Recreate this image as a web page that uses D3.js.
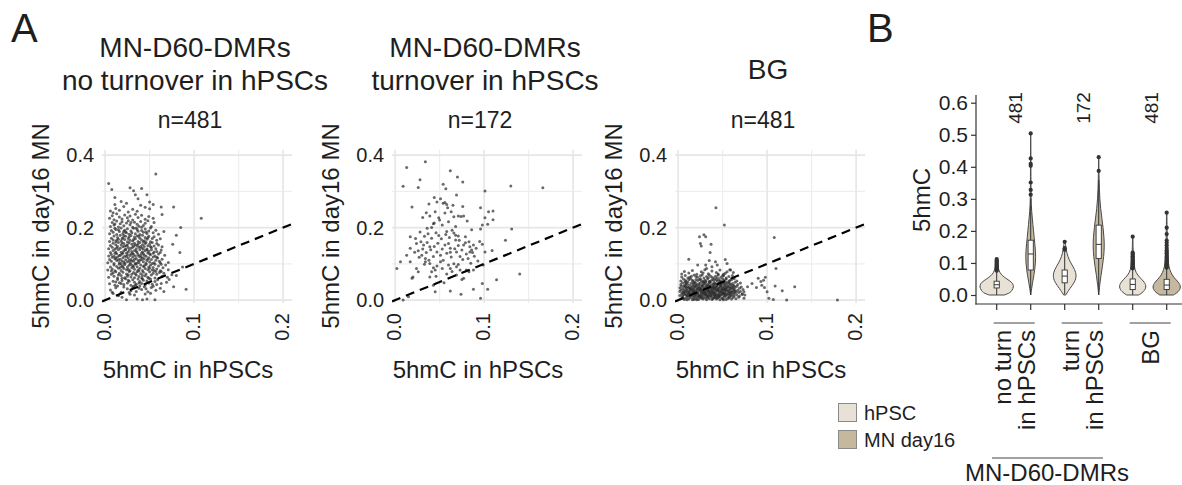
<!DOCTYPE html>
<html>
<head>
<meta charset="utf-8">
<script src="https://cdn.jsdelivr.net/npm/d3@7"></script>
<style>
  body { margin: 0; background: #fff; }
  text { font-family: "Liberation Sans", Arial, sans-serif; fill: #1e1e1e; }
</style>
</head>
<body>
<div id="chart"></div>
<script>
// ---------- data: panel A (scatter, x = 5hmC in hPSCs, y = 5hmC in day16 MN) ----------
var scatterTitles = [["MN-D60-DMRs", "no turnover in hPSCs"], ["MN-D60-DMRs", "turnover in hPSCs"], ["BG"]];
var scatterCounts = ["n=481", "n=172", "n=481"];
var xTicks = [0, 0.1, 0.2], xMinor = [0.05, 0.15];
var yTicks = [0, 0.2, 0.4], yMinor = [0.1, 0.3];

var noTurnPoints = [
[.024,.001],[.036,.003],[.042,.001],[.047,.003],[.056,.001],[.015,.012],[.028,.016],[.009,.018],[.033,.014],[.045,.017],[.019,.008],[.051,.019],
[.006,.028],[.012,.034],[.018,.022],[.021,.036],[.025,.031],[.029,.026],[.032,.038],[.035,.024],[.038,.033],[.041,.029],[.044,.037],[.048,.023],[.052,.035],[.057,.027],[.062,.033],[.077,.037],[.091,.030],[.014,.039],[.027,.021],[.031,.035],[.039,.039],[.046,.031],[.054,.038],[.066,.024],[.008,.022],
[.005,.045],[.009,.052],[.011,.041],[.014,.057],[.016,.048],[.019,.054],[.021,.043],[.023,.059],[.025,.047],[.027,.052],[.029,.041],[.031,.056],[.033,.049],[.035,.044],[.037,.058],[.039,.051],[.041,.046],[.043,.055],[.045,.042],[.047,.053],[.049,.047],[.051,.058],[.053,.044],[.056,.051],[.059,.056],[.063,.046],[.069,.049],[.072,.057],[.018,.046],[.026,.055],[.034,.041],[.042,.059],[.058,.043],[.012,.050],[.038,.047],
[.004,.063],[.007,.071],[.010,.066],[.012,.078],[.014,.061],[.016,.074],[.018,.068],[.020,.077],[.022,.062],[.024,.072],[.025,.066],[.027,.079],[.029,.064],[.030,.071],[.032,.076],[.033,.062],[.035,.069],[.036,.078],[.038,.065],[.040,.073],[.041,.061],[.043,.077],[.045,.067],[.046,.072],[.048,.063],[.050,.078],[.052,.069],[.054,.074],[.056,.061],[.058,.071],[.061,.076],[.064,.066],[.066,.074],[.070,.063],[.075,.070],[.080,.068],[.009,.075],[.019,.060],[.026,.070],[.034,.073],[.042,.068],[.049,.060],[.057,.079],[.063,.079],[.015,.069],
[.003,.083],[.006,.091],[.008,.086],[.010,.097],[.011,.081],[.013,.093],[.015,.088],[.016,.099],[.018,.082],[.019,.094],[.021,.087],[.022,.098],[.024,.084],[.025,.091],[.027,.096],[.028,.081],[.030,.089],[.031,.095],[.033,.085],[.034,.099],[.036,.092],[.037,.083],[.039,.088],[.040,.097],[.042,.082],[.043,.093],[.045,.087],[.046,.098],[.048,.084],[.049,.091],[.051,.096],[.053,.083],[.054,.090],[.056,.099],[.058,.086],[.060,.094],[.062,.081],[.065,.089],[.068,.097],[.071,.084],[.087,.091],[.007,.080],[.017,.090],[.026,.085],[.032,.092],[.038,.080],[.044,.095],[.050,.088],[.055,.082],[.063,.099],[.020,.092],[.029,.099],
[.003,.103],[.005,.112],[.007,.107],[.008,.118],[.010,.101],[.011,.114],[.013,.109],[.014,.119],[.016,.104],[.017,.113],[.019,.108],[.020,.117],[.022,.102],[.023,.111],[.025,.106],[.026,.116],[.028,.103],[.029,.112],[.031,.119],[.032,.107],[.034,.101],[.035,.115],[.037,.109],[.038,.104],[.040,.118],[.041,.111],[.043,.106],[.044,.114],[.046,.102],[.047,.109],[.049,.117],[.050,.105],[.052,.112],[.054,.119],[.055,.103],[.057,.110],[.059,.116],[.061,.107],[.064,.113],[.071,.104],[.012,.116],[.018,.100],[.024,.120],[.027,.109],[.033,.113],[.036,.102],[.039,.110],[.042,.117],[.048,.113],[.053,.101],[.058,.118],[.062,.103],[.015,.111],[.021,.105],[.030,.108],
[.004,.122],[.006,.131],[.007,.126],[.009,.137],[.010,.121],[.012,.133],[.013,.128],[.015,.139],[.016,.123],[.018,.132],[.019,.127],[.021,.136],[.022,.121],[.024,.130],[.025,.125],[.027,.138],[.028,.123],[.030,.134],[.031,.129],[.033,.137],[.034,.122],[.036,.131],[.037,.126],[.039,.139],[.040,.124],[.042,.133],[.043,.128],[.045,.136],[.046,.121],[.048,.130],[.049,.135],[.051,.125],[.052,.139],[.054,.129],[.056,.122],[.058,.134],[.060,.127],[.063,.138],[.067,.124],[.084,.131],[.011,.129],[.017,.124],[.023,.139],[.026,.133],[.029,.127],[.035,.135],[.038,.121],[.041,.130],[.044,.124],[.047,.139],[.050,.128],[.055,.133],[.020,.130],[.032,.126],[.062,.131],
[.004,.142],[.006,.151],[.008,.146],[.009,.157],[.011,.141],[.012,.153],[.014,.148],[.015,.159],[.017,.143],[.018,.152],[.020,.147],[.021,.156],[.023,.141],[.024,.150],[.026,.145],[.027,.158],[.029,.143],[.030,.154],[.032,.149],[.033,.157],[.035,.142],[.036,.151],[.038,.146],[.039,.159],[.041,.144],[.042,.153],[.044,.148],[.045,.156],[.047,.141],[.048,.150],[.050,.155],[.052,.145],[.053,.159],[.055,.149],[.057,.142],[.060,.152],[.064,.147],[.076,.154],[.013,.144],[.019,.158],[.025,.153],[.031,.146],[.037,.155],[.043,.141],[.046,.159],[.051,.148],[.058,.156],[.022,.149],[.034,.152],[.040,.148],
[.005,.162],[.007,.171],[.009,.166],[.010,.177],[.012,.161],[.014,.173],[.015,.168],[.017,.179],[.018,.163],[.020,.172],[.022,.167],[.023,.176],[.025,.161],[.026,.170],[.028,.165],[.029,.178],[.031,.163],[.033,.174],[.034,.169],[.036,.177],[.037,.162],[.039,.171],[.041,.166],[.042,.179],[.044,.164],[.045,.173],[.047,.168],[.049,.176],[.051,.161],[.053,.170],[.055,.175],[.058,.165],[.080,.179],[.013,.165],[.021,.178],[.027,.174],[.032,.167],[.038,.176],[.043,.161],[.048,.172],[.062,.169],[.019,.169],
[.005,.183],[.007,.192],[.009,.187],[.011,.198],[.013,.181],[.015,.194],[.016,.189],[.018,.199],[.020,.184],[.022,.193],[.023,.188],[.025,.197],[.027,.182],[.029,.191],[.030,.186],[.032,.198],[.034,.183],[.036,.195],[.037,.190],[.039,.181],[.041,.192],[.043,.187],[.045,.196],[.047,.184],[.049,.191],[.051,.199],[.054,.186],[.057,.193],[.060,.182],[.066,.189],[.012,.195],[.024,.186],[.035,.199],[.046,.188],[.021,.190],
[.006,.203],[.008,.214],[.010,.207],[.013,.218],[.015,.202],[.017,.211],[.019,.216],[.021,.205],[.024,.213],[.026,.219],[.028,.208],[.031,.201],[.033,.215],[.036,.209],[.038,.204],[.040,.217],[.043,.206],[.045,.212],[.048,.219],[.052,.203],[.055,.214],[.085,.200],[.011,.210],[.029,.214],[.041,.201],
[.005,.226],[.008,.233],[.010,.222],[.013,.238],[.016,.229],[.019,.224],[.022,.235],[.025,.227],[.028,.232],[.031,.221],[.034,.237],[.037,.228],[.041,.234],[.045,.223],[.049,.231],[.054,.226],[.108,.226],[.064,.236],
[.006,.246],[.009,.241],[.012,.253],[.016,.248],[.021,.258],[.026,.243],[.031,.251],[.036,.245],[.045,.256],[.050,.252],[.063,.257],[.077,.257],
[.011,.264],[.018,.272],[.054,.264],[.050,.271],[.024,.267],[.040,.262],
[.011,.283],[.037,.280],[.034,.291],[.047,.291],
[.004,.322],[.0075,.305],[.032,.302],[.041,.308],[.057,.348],[.028,.310]
];

var turnPoints = [
[.034,.382],[.013,.366],[.062,.357],[.028,.332],[.070,.340],[.009,.314],[.026,.311],[.054,.320],[.057,.307],[.076,.326],[.101,.301],[.130,.315],[.166,.310],
[.044,.283],[.051,.280],[.069,.290],[.019,.257],[.038,.265],[.047,.271],[.054,.267],[.056,.269],[.058,.264],[.065,.262],[.076,.258],[.096,.255],[.105,.244],[.110,.246],
[.031,.228],[.039,.232],[.045,.244],[.049,.227],[.056,.240],[.063,.244],[.066,.230],[.071,.232],[.074,.231],[.077,.232],[.101,.227],[.110,.222],[.104,.209],[.098,.207],
[.086,.194],[.131,.196],[.043,.211],[.053,.207],[.036,.198],[.041,.200],[.058,.189],[.064,.193],[.068,.179],[.071,.177],[.079,.175],[.096,.196],
[.017,.175],[.023,.170],[.024,.156],[.029,.161],[.032,.152],[.036,.159],[.039,.147],[.017,.143],[.026,.136],[.030,.124],[.034,.115],[.038,.110],[.043,.120],[.047,.133],
[.051,.124],[.056,.152],[.060,.156],[.062,.143],[.068,.166],[.069,.133],[.073,.120],[.077,.152],[.083,.161],[.084,.147],[.086,.138],[.088,.152],[.098,.154],[.101,.133],
[.109,.137],[.124,.165],[.084,.133],[.087,.131],
[.006,.106],[.002,.087],[.017,.106],[.024,.087],[.026,.078],[.019,.060],[.020,.064],[.034,.106],[.039,.101],[.043,.089],[.041,.078],[.045,.083],[.051,.106],[.054,.110],
[.060,.097],[.062,.087],[.066,.100],[.069,.092],[.073,.083],[.080,.083],[.083,.078],[.069,.069],[.077,.060],[.088,.083],[.099,.097],[.114,.056],[.140,.072],[.039,.064],
[.043,.041],[.045,.023],[.062,.025],[.075,.057],[.074,.016],[.088,.030],[.098,.046],[.104,.030],[.096,.005],[.015,.009],[.009,.000],
[.028,.188],[.033,.176],[.037,.183],[.041,.171],[.046,.186],[.049,.178],[.052,.169],[.057,.181],[.061,.173],[.066,.185],[.072,.165],[.079,.158],[.031,.141],[.035,.131],
[.040,.139],[.044,.148],[.048,.157],[.053,.141],[.058,.129],[.063,.119],[.067,.142],[.071,.151],[.075,.138],[.080,.127],[.082,.115],[.089,.121],[.093,.108],[.027,.118],
[.033,.099],[.047,.094],[.053,.087],[.058,.072],[.064,.079],[.071,.098],[.076,.112],[.091,.143],[.095,.162],[.044,.213],[.050,.221],[.060,.216],[.068,.203],[.035,.241],
[.081,.218],[.059,.255],[.022,.132],[.013,.124],[.046,.066],[.055,.048],[.085,.102],[.062,.132]
];

var bgPoints = [
[.0425,.255],[.052,.207],[.108,.173],[.024,.175],[.025,.156],[.026,.149],[.029,.180],[.031,.175],[.037,.154],[.036,.131],[.035,.109],[.012,.113],[.053,.112],[.055,.101],
[.042,.106],[.044,.097],[.110,.087],[.022,.097],[.031,.097],[.032,.087],[.038,.092],[.059,.083],[.090,.060],[.093,.051],[.096,.055],[.098,.063],[.094,.041],[.097,.035],
[.100,.023],[.088,.035],[.083,.046],[.078,.037],[.074,.023],[.109,.039],[.117,.026],[.131,.037],[.122,.000],[.179,.000],[.102,.005],[.107,.002],[.072,.016],[.075,.014],[.074,.005],
[.003,.004],[.005,.008],[.007,.002],[.009,.006],[.011,.009],[.012,.003],[.014,.007],[.016,.001],[.017,.005],[.019,.009],[.020,.004],[.022,.007],[.023,.002],[.025,.006],[.026,.009],[.028,.003],[.029,.008],[.031,.005],[.032,.001],[.034,.007],[.035,.004],[.037,.009],[.038,.002],[.040,.006],[.041,.008],[.043,.003],[.044,.005],[.046,.009],[.047,.001],[.049,.006],[.050,.004],[.052,.008],[.054,.002],[.056,.005],[.058,.009],[.060,.003],[.062,.007],[.065,.004],[.068,.008],[.010,.001],[.018,.002],[.027,.005],[.033,.009],[.039,.004],[.045,.007],[.051,.001],[.057,.006],[.006,.005],[.021,.001],[.042,.009],
[.002,.013],[.004,.017],[.005,.011],[.007,.015],[.008,.019],[.010,.012],[.011,.016],[.013,.011],[.014,.018],[.015,.014],[.017,.019],[.018,.012],[.019,.016],[.021,.013],[.022,.018],[.023,.011],[.024,.015],[.026,.019],[.027,.012],[.028,.016],[.030,.014],[.031,.018],[.032,.011],[.033,.015],[.035,.019],[.036,.013],[.037,.017],[.038,.011],[.040,.015],[.041,.019],[.042,.012],[.043,.016],[.045,.014],[.046,.018],[.047,.011],[.048,.015],[.050,.019],[.051,.013],[.052,.017],[.054,.011],[.055,.016],[.057,.013],[.058,.018],[.060,.012],[.062,.016],[.064,.019],[.066,.014],[.069,.011],[.072,.017],[.009,.014],[.012,.019],[.016,.012],[.020,.017],[.025,.013],[.029,.019],[.034,.012],[.039,.018],[.044,.013],[.049,.017],[.053,.014],[.059,.015],[.063,.011],[.006,.019],[.024,.010],[.031,.015],[.036,.016],[.041,.014],[.046,.012],[.052,.019],[.056,.018],
[.002,.024],[.003,.028],[.005,.021],[.006,.026],[.008,.029],[.009,.023],[.010,.027],[.012,.021],[.013,.025],[.014,.029],[.016,.022],[.017,.026],[.018,.029],[.020,.023],[.021,.027],[.022,.021],[.024,.025],[.025,.028],[.026,.022],[.027,.026],[.029,.029],[.030,.023],[.031,.027],[.032,.021],[.034,.025],[.035,.028],[.036,.022],[.037,.026],[.039,.029],[.040,.023],[.041,.027],[.042,.021],[.044,.025],[.045,.028],[.046,.022],[.047,.026],[.049,.029],[.050,.023],[.051,.027],[.053,.021],[.054,.025],[.055,.029],[.057,.023],[.058,.027],[.060,.021],[.061,.025],[.063,.028],[.065,.023],[.067,.027],[.070,.024],[.073,.029],[.011,.024],[.015,.027],[.019,.021],[.023,.029],[.028,.024],[.033,.028],[.038,.024],[.043,.029],[.048,.024],[.052,.028],[.056,.026],[.059,.022],[.064,.026],[.007,.023],[.018,.025],[.026,.029],[.029,.021],[.034,.023],[.039,.021],[.044,.027],[.049,.021],[.053,.029],[.062,.022],[.068,.021],
[.002,.034],[.004,.038],[.005,.031],[.007,.036],[.008,.039],[.010,.033],[.011,.037],[.013,.031],[.014,.035],[.016,.039],[.017,.032],[.019,.036],[.020,.039],[.022,.033],[.023,.037],[.025,.031],[.026,.035],[.028,.038],[.029,.032],[.031,.036],[.032,.039],[.034,.033],[.035,.037],[.037,.031],[.038,.035],[.040,.038],[.041,.032],[.043,.036],[.044,.039],[.046,.033],[.047,.037],[.049,.031],[.050,.035],[.052,.038],[.053,.032],[.055,.036],[.056,.039],[.058,.033],[.060,.037],[.062,.031],[.064,.035],[.066,.038],[.069,.033],[.071,.036],[.012,.034],[.018,.038],[.024,.034],[.030,.031],[.036,.038],[.042,.034],[.048,.039],[.054,.034],[.059,.031],[.063,.039],[.009,.036],[.021,.031],[.027,.039],[.033,.035],[.039,.033],[.045,.031],[.051,.033],[.057,.037],[.015,.033],[.040,.036],[.061,.034],
[.003,.043],[.005,.048],[.007,.041],[.009,.046],[.011,.049],[.013,.042],[.015,.047],[.017,.044],[.019,.049],[.021,.041],[.023,.045],[.025,.048],[.027,.042],[.029,.046],[.031,.049],[.033,.043],[.035,.047],[.037,.041],[.039,.045],[.041,.048],[.043,.042],[.045,.046],[.047,.049],[.049,.043],[.051,.047],[.053,.041],[.055,.045],[.057,.048],[.059,.042],[.061,.046],[.064,.049],[.067,.043],[.070,.047],[.010,.044],[.018,.047],[.024,.042],[.030,.044],[.036,.049],[.042,.045],[.048,.041],[.054,.049],[.058,.045],[.062,.041],[.008,.049],[.020,.045],[.028,.049],[.034,.041],[.040,.043],[.046,.044],[.052,.045],
[.003,.053],[.006,.058],[.009,.051],[.012,.056],[.014,.059],[.017,.052],[.020,.057],[.022,.054],[.025,.059],[.028,.051],[.030,.055],[.033,.058],[.036,.052],[.038,.056],[.041,.059],[.044,.053],[.046,.057],[.049,.051],[.052,.055],[.054,.058],[.057,.052],[.060,.056],[.063,.059],[.066,.053],[.016,.055],[.026,.054],[.035,.051],[.043,.056],[.050,.059],[.058,.054],[.008,.055],[.031,.052],[.040,.054],[.047,.053],[.024,.057],
[.004,.064],[.008,.068],[.011,.061],[.015,.066],[.018,.069],[.022,.063],[.025,.067],[.029,.061],[.032,.065],[.035,.069],[.039,.062],[.042,.066],[.045,.069],[.048,.063],[.051,.067],[.054,.061],[.057,.065],[.061,.068],[.020,.065],[.027,.069],[.037,.065],[.044,.062],[.050,.068],[.013,.063],[.034,.062],
[.004,.072],[.007,.079],[.012,.075],[.016,.082],[.021,.071],[.026,.078],[.030,.084],[.034,.073],[.038,.080],[.043,.076],[.047,.083],[.051,.071],[.055,.078],[.058,.084],[.045,.072],[.053,.074],[.028,.075],[.062,.076]
];

// ---------- data: panel B (violins) ----------
var groupLabels = [["no turn", "in hPSCs"], ["turn", "in hPSCs"], ["BG"]];
var groupN = ["481", "172", "481"];
var conditions = ["hPSC", "MN day16"];
var bTicks = [0, 0.1, 0.2, 0.3, 0.4, 0.5, 0.6];

// density profiles [5hmC, density]
var densHpscNoTurn = [[0,12],[.005,19],[.01,23],[.02,26],[.03,27],[.04,24],[.05,16],[.06,9],[.07,5],[.08,3],[.09,2],[.10,1],[.11,.5]];
var densMnNoTurn = [[0,0],[.02,1.5],[.04,3],[.06,5],[.08,6.5],[.10,7.5],[.12,8],[.14,7.5],[.16,6.5],[.18,5.5],[.20,4.5],[.22,3.5],[.24,2.5],[.26,1.6],[.28,1],[.30,.7],[.34,.45],[.40,.35],[.45,.25],[.50,.1]];
var densHpscTurn = [[0,1.6],[.02,8],[.04,16],[.06,19],[.08,16],[.10,9.5],[.12,4.8],[.14,2.4],[.166,.8]];
var densMnTurn = [[0,0],[.03,1.5],[.06,3.5],[.09,6],[.12,8],[.15,9],[.18,8.5],[.21,7],[.24,5],[.27,3],[.30,1.8],[.33,1.1],[.36,.6],[.39,.4],[.43,.2]];
var densHpscBG = [[0,9.5],[.01,17.5],[.025,22],[.04,19],[.055,11],[.07,4.8],[.09,2.4],[.11,1.6],[.13,1],[.15,.5],[.182,.3]];
var densMnBG = [[0,11],[.01,19],[.025,23],[.04,19],[.055,11],[.07,6.4],[.09,3.2],[.11,2.1],[.14,1.3],[.18,.8],[.22,.5],[.257,.3]];

// box stats [lower whisker, q1, median, q3, upper whisker]
var boxHpscNoTurn = [0, .022, .032, .043, .074];
var boxMnNoTurn = [0, .078, .128, .171, .30];
var boxHpscTurn = [.002, .038, .059, .078, .135];
var boxMnTurn = [0, .114, .158, .218, .36];
var boxHpscBG = [0, .017, .033, .050, .080];
var boxMnBG = [0, .017, .031, .049, .082];

var outHpscNoTurn = [.076,.079,.082,.085,.088,.091,.094,.097,.100,.104,.108,.112];
var outMnNoTurn = [.313,.328,.351,.403,.409,.426,.504];
var outHpscTurn = [.141,.146,.166];
var outMnTurn = [.387,.43];
var outHpscBG = [.083,.086,.089,.092,.095,.098,.101,.104,.107,.110,.113,.117,.121,.125,.129,.132,.182];
var outMnBG = [.085,.088,.091,.094,.097,.100,.104,.108,.112,.116,.120,.125,.130,.135,.140,.147,.155,.163,.170,.190,.210,.257];

var fillColors = ["#e8e2d6", "#c6b89e"];

// ---------- svg ----------
var width = 1182, height = 485;
var svg = d3.select("#chart").append("svg")
    .attr("width", width)
    .attr("height", height);

// panel letters
svg.append("text").attr("x", 11).attr("y", 42).style("font-size", "40px").text("A");
svg.append("text").attr("x", 867).attr("y", 42).style("font-size", "40px").text("B");

// ---------- panel A: three scatter plots ----------
var scatterSets = [noTurnPoints, turnPoints, bgPoints];
var panelLeft = [102, 392, 675];

scatterSets.forEach(function(pts, i) {
    var L = panelLeft[i];
    var x = d3.scaleLinear().domain([-0.0035, 0.21]).range([L, L + 190]);
    var y = d3.scaleLinear().domain([-0.008, 0.415]).range([303, 149.7]);
    var g = svg.append("g");

    // grid
    g.selectAll(".vmin").data(xMinor).enter().append("line")
        .attr("x1", d => x(d)).attr("x2", d => x(d))
        .attr("y1", y.range()[1]).attr("y2", y.range()[0])
        .attr("stroke", "#eeeeee").attr("stroke-width", 1.2);
    g.selectAll(".hmin").data(yMinor).enter().append("line")
        .attr("y1", d => y(d)).attr("y2", d => y(d))
        .attr("x1", L).attr("x2", L + 190)
        .attr("stroke", "#eeeeee").attr("stroke-width", 1.2);
    g.selectAll(".vmaj").data(xTicks).enter().append("line")
        .attr("x1", d => x(d)).attr("x2", d => x(d))
        .attr("y1", y.range()[1]).attr("y2", y.range()[0])
        .attr("stroke", "#e6e6e6").attr("stroke-width", 1.6);
    g.selectAll(".hmaj").data(yTicks).enter().append("line")
        .attr("y1", d => y(d)).attr("y2", d => y(d))
        .attr("x1", L).attr("x2", L + 190)
        .attr("stroke", "#e6e6e6").attr("stroke-width", 1.6);

    svg.append("clipPath").attr("id", "clip" + i)
        .append("rect").attr("x", L).attr("y", y.range()[1])
        .attr("width", 190).attr("height", y.range()[0] - y.range()[1]);

    var inner = g.append("g").attr("clip-path", "url(#clip" + i + ")");
    inner.selectAll("circle").data(pts).enter().append("circle")
        .attr("cx", d => x(d[0]))
        .attr("cy", d => y(d[1]))
        .attr("r", 1.5)
        .attr("fill", "#2b2b2b")
        .attr("fill-opacity", 0.7);

    // y = x reference
    inner.append("line")
        .attr("x1", x(-0.0035)).attr("y1", y(-0.0035))
        .attr("x2", x(0.21)).attr("y2", y(0.21))
        .attr("stroke", "#000").attr("stroke-width", 2.2)
        .attr("stroke-dasharray", "9,6");

    // tick labels
    g.selectAll(".ylab").data(yTicks).enter().append("text")
        .attr("x", x(0) - 11).attr("y", d => y(d)).attr("dy", "0.36em")
        .attr("text-anchor", "end").style("font-size", "20px")
        .text(d3.format(".1f"));
    g.selectAll(".xlab").data(xTicks).enter().append("text")
        .attr("transform", d => "translate(" + (x(d) + 6) + ",313) rotate(-90)")
        .attr("text-anchor", "end").style("font-size", "20px")
        .text(d3.format(".1f"));

    // axis titles
    g.append("text")
        .attr("transform", "translate(" + (x(0) - 56) + ",226) rotate(-90)")
        .attr("text-anchor", "middle").style("font-size", "24px")
        .text("5hmC in day16 MN");
    g.append("text")
        .attr("x", L + 86).attr("y", 378)
        .attr("text-anchor", "middle").style("font-size", "24px")
        .text("5hmC in hPSCs");

    // titles
    var lines = scatterTitles[i];
    lines.forEach(function(t, k) {
        g.append("text")
            .attr("x", L + 93)
            .attr("y", lines.length === 1 ? 79 : 57 + k * 33)
            .attr("text-anchor", "middle").style("font-size", "28px")
            .text(t);
    });
    g.append("text")
        .attr("x", L + 88).attr("y", 128)
        .attr("text-anchor", "middle").style("font-size", "23px")
        .text(scatterCounts[i]);
});

// ---------- panel B: violins ----------
var yB = d3.scaleLinear().domain([0, 0.6]).range([295, 102.7]);
var violinKeys = ["g0c0", "g0c1", "g1c0", "g1c1", "g2c0", "g2c1"];
var xB = d3.scalePoint().domain(violinKeys).range([996.7, 1166.7]);
var wB = d3.scaleLinear().domain([0, 27]).range([0, 17]);

var violins = [
    { key: "g0c0", cond: 0, dens: densHpscNoTurn, box: boxHpscNoTurn, out: outHpscNoTurn },
    { key: "g0c1", cond: 1, dens: densMnNoTurn, box: boxMnNoTurn, out: outMnNoTurn },
    { key: "g1c0", cond: 0, dens: densHpscTurn, box: boxHpscTurn, out: outHpscTurn },
    { key: "g1c1", cond: 1, dens: densMnTurn, box: boxMnTurn, out: outMnTurn },
    { key: "g2c0", cond: 0, dens: densHpscBG, box: boxHpscBG, out: outHpscBG },
    { key: "g2c1", cond: 1, dens: densMnBG, box: boxMnBG, out: outMnBG }
];

var gB = svg.append("g");

violins.forEach(function(v) {
    var cx = xB(v.key);
    var area = d3.area()
        .y(d => yB(d[0]))
        .x0(d => cx - wB(d[1]))
        .x1(d => cx + wB(d[1]))
        .curve(d3.curveBasis);
    gB.append("path").datum(v.dens)
        .attr("d", area)
        .attr("fill", fillColors[v.cond])
        .attr("stroke", "#4a4a4a").attr("stroke-width", 1);

    var b = v.box;
    gB.append("line").attr("x1", cx).attr("x2", cx)
        .attr("y1", yB(b[0])).attr("y2", yB(b[1]))
        .attr("stroke", "#333").attr("stroke-width", 1);
    gB.append("line").attr("x1", cx).attr("x2", cx)
        .attr("y1", yB(b[3])).attr("y2", yB(b[4]))
        .attr("stroke", "#333").attr("stroke-width", 1);
    gB.append("rect")
        .attr("x", cx - 2.6).attr("width", 5.2)
        .attr("y", yB(b[3])).attr("height", yB(b[1]) - yB(b[3]))
        .attr("fill", "#fff").attr("stroke", "#333").attr("stroke-width", 0.9);
    gB.append("line").attr("x1", cx - 2.6).attr("x2", cx + 2.6)
        .attr("y1", yB(b[2])).attr("y2", yB(b[2]))
        .attr("stroke", "#333").attr("stroke-width", 1);
    gB.selectAll(null).data(v.out).enter().append("circle")
        .attr("cx", cx).attr("cy", d => yB(d))
        .attr("r", 2.1).attr("fill", "#333");
});

// y axis
var yAxisB = gB.append("g").attr("transform", "translate(976,0)")
    .call(d3.axisLeft(yB).tickValues(bTicks).tickSize(5).tickPadding(3).tickFormat(d3.format(".1f")));
yAxisB.select(".domain").remove();
yAxisB.selectAll(".tick line").attr("stroke", "#333").attr("stroke-width", 1.2);
yAxisB.selectAll(".tick text")
    .style("font-size", "21px")
    .style("font-family", "'Liberation Sans', Arial, sans-serif")
    .attr("fill", "#1e1e1e");
gB.append("line").attr("x1", 976).attr("x2", 976).attr("y1", 95).attr("y2", 304.6)
    .attr("stroke", "#333").attr("stroke-width", 1.2);
gB.append("line").attr("x1", 975.4).attr("x2", 1186).attr("y1", 304).attr("y2", 304)
    .attr("stroke", "#333").attr("stroke-width", 1.2);
gB.selectAll(".xtick").data(violinKeys).enter().append("line")
    .attr("x1", d => xB(d)).attr("x2", d => xB(d))
    .attr("y1", 304).attr("y2", 310)
    .attr("stroke", "#333").attr("stroke-width", 1.2);

gB.append("text")
    .attr("transform", "translate(930,200) rotate(-90)")
    .attr("text-anchor", "middle").style("font-size", "24px")
    .text("5hmC");

// group counts, underlines and labels
groupLabels.forEach(function(lines, i) {
    var a = xB("g" + i + "c0"), b = xB("g" + i + "c1");
    var c = (a + b) / 2;
    gB.append("text")
        .attr("transform", "translate(" + (c + 8) + ",108) rotate(-90)")
        .attr("text-anchor", "middle").style("font-size", "19px")
        .text(groupN[i]);
    gB.append("line").attr("x1", a - 3).attr("x2", b + 4)
        .attr("y1", 323).attr("y2", 323)
        .attr("stroke", "#444").attr("stroke-width", 1);
    lines.forEach(function(t, k) {
        var bx = c + 9 + (k - (lines.length - 1) / 2) * 24;
        gB.append("text")
            .attr("transform", "translate(" + bx + ",330) rotate(-90)")
            .attr("text-anchor", "end").style("font-size", "24px")
            .text(t);
    });
});

gB.append("line").attr("x1", 992).attr("x2", 1103).attr("y1", 458).attr("y2", 458)
    .attr("stroke", "#444").attr("stroke-width", 1);
gB.append("text").attr("x", 1047).attr("y", 481)
    .attr("text-anchor", "middle").style("font-size", "24px")
    .text("MN-D60-DMRs");

// legend
var legend = svg.append("g");
conditions.forEach(function(c, i) {
    legend.append("rect")
        .attr("x", 838.5).attr("y", 403.5 + i * 27)
        .attr("width", 18).attr("height", 18)
        .attr("fill", fillColors[i]).attr("stroke", "#8a8a8a").attr("stroke-width", 1);
    legend.append("text")
        .attr("x", 864).attr("y", 420 + i * 27)
        .style("font-size", "20px")
        .text(c);
});
</script>
</body>
</html>
